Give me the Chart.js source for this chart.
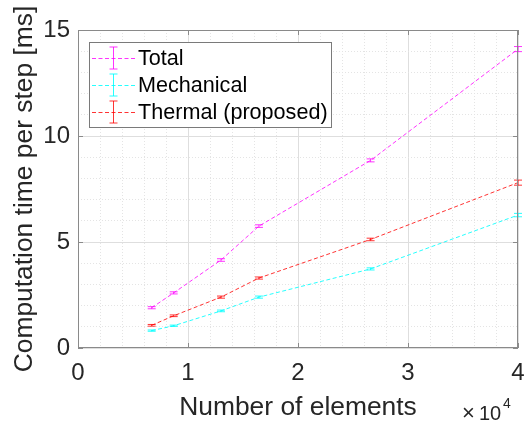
<!DOCTYPE html>
<html>
<head>
<meta charset="utf-8">
<script src="https://cdn.jsdelivr.net/npm/chart.js@4.4.0/dist/chart.umd.min.js"></script>
<style>
  html, body { margin: 0; padding: 0; background: #fff; }
  #wrap { width: 526px; height: 428px; }
</style>
</head>
<body>
<div id="wrap"><canvas id="chart" width="526" height="428"></canvas></div>
<script>
// Number of elements (x axis)
const nElements = [6700, 8700, 13000, 16450, 26600, 40000];

// Computation time per step [ms]
const totalTime = [1.9, 2.6, 4.15, 5.75, 8.85, 14.1];
const mechTime = [0.82, 1.05, 1.75, 2.4, 3.73, 6.27];
const thermTime = [1.07, 1.52, 2.4, 3.3, 5.12, 7.8];

// Error bar half-widths [ms]
const totalErr = [0.05, 0.05, 0.06, 0.06, 0.07, 0.12];
const mechErr = [0.03, 0.03, 0.04, 0.05, 0.05, 0.08];
const thermErr = [0.04, 0.04, 0.05, 0.05, 0.06, 0.12];

const seriesLabels = ['Total', 'Mechanical', 'Thermal (proposed)'];
const seriesColors = ['rgba(255,0,255,0.8)', 'rgba(0,255,255,0.85)', 'rgba(255,0,0,0.8)'];

// Tick labels
const xTickLabels = ['0', '1', '2', '3', '4'];
const yTickLabels = ['0', '5', '10', '15'];

const FONT = "'Liberation Sans', Arial, Helvetica, sans-serif";
const TEXT = '#262626';

function toPoints(xs, ys) {
    return xs.map((x, i) => ({ x: x, y: ys[i] }));
}

function makeDataset(i, values, errors) {
    return {
        label: seriesLabels[i],
        data: toPoints(nElements, values),
        errors: errors,
        borderColor: seriesColors[i],
        borderWidth: 1,
        borderDash: [4, 2.5],
        pointRadius: 0,
        tension: 0,
        fill: false
    };
}

// Error bars drawn with the chart's own scales
const errorBarPlugin = {
    id: 'errorBars',
    afterDatasetsDraw(chart) {
        const ctx = chart.ctx;
        const yScale = chart.scales.y;
        chart.data.datasets.forEach((ds, i) => {
            const meta = chart.getDatasetMeta(i);
            ctx.save();
            ctx.strokeStyle = ds.borderColor;
            ctx.lineWidth = 1;
            meta.data.forEach((pt, j) => {
                const v = ds.data[j].y;
                const e = ds.errors[j];
                const yTop = yScale.getPixelForValue(v + e);
                const yBot = yScale.getPixelForValue(v - e);
                ctx.beginPath();
                ctx.moveTo(pt.x, yTop);
                ctx.lineTo(pt.x, yBot);
                ctx.moveTo(pt.x - 4, yTop);
                ctx.lineTo(pt.x + 4, yTop);
                ctx.moveTo(pt.x - 4, yBot);
                ctx.lineTo(pt.x + 4, yBot);
                ctx.stroke();
            });
            ctx.restore();
        });
    }
};

// Axes box, inward tick marks, legend and the x10^4 multiplier
const framePlugin = {
    id: 'frame',
    afterDraw(chart) {
        const ctx = chart.ctx;
        const a = chart.chartArea;
        const xs = chart.scales.x;
        const ys = chart.scales.y;
        ctx.save();

        // box
        ctx.strokeStyle = '#8a8a8a';
        ctx.lineWidth = 1;
        ctx.strokeRect(Math.round(a.left) + 0.5, Math.round(a.top) + 0.5,
            Math.round(a.right - a.left) - 1, Math.round(a.bottom - a.top) - 1);

        // inward ticks at major values
        ctx.beginPath();
        xTickLabels.forEach((t, i) => {
            const px = Math.round(xs.getPixelForValue(i * 10000)) + 0.5;
            ctx.moveTo(px, a.bottom); ctx.lineTo(px, a.bottom - 5);
            ctx.moveTo(px, a.top); ctx.lineTo(px, a.top + 5);
        });
        yTickLabels.forEach(t => {
            const py = Math.round(ys.getPixelForValue(Number(t))) + 0.5;
            ctx.moveTo(a.left, py); ctx.lineTo(a.left + 5, py);
            ctx.moveTo(a.right, py); ctx.lineTo(a.right - 5, py);
        });
        ctx.stroke();

        // legend
        const lx = 89, ly = 42, lw = 242, lh = 85;
        ctx.fillStyle = '#ffffff';
        ctx.fillRect(lx, ly, lw, lh);
        ctx.strokeStyle = '#7a7a7a';
        ctx.strokeRect(lx + 0.5, ly + 0.5, lw, lh);
        chart.data.datasets.forEach((ds, i) => {
            const cy = 58 + i * 27;
            ctx.strokeStyle = ds.borderColor;
            ctx.lineWidth = 1;
            ctx.setLineDash(ds.borderDash);
            ctx.beginPath();
            ctx.moveTo(92, cy + 0.5);
            ctx.lineTo(135, cy + 0.5);
            ctx.stroke();
            ctx.setLineDash([]);
            ctx.beginPath();
            ctx.moveTo(113.5, cy - 11);
            ctx.lineTo(113.5, cy + 11);
            ctx.moveTo(109.5, cy - 11); ctx.lineTo(117.5, cy - 11);
            ctx.moveTo(109.5, cy + 11); ctx.lineTo(117.5, cy + 11);
            ctx.stroke();
            ctx.fillStyle = '#000000';
            ctx.font = '21.6px ' + FONT;
            ctx.textAlign = 'left';
            ctx.textBaseline = 'middle';
            ctx.fillText(ds.label, 138, cy + 1);
        });

        // x10^4
        ctx.fillStyle = TEXT;
        ctx.textAlign = 'left';
        ctx.textBaseline = 'alphabetic';
        ctx.font = '22px ' + FONT;
        ctx.fillText('\u00d7', 462, 420);
        ctx.font = '20px ' + FONT;
        ctx.fillText('10', 479, 420);
        ctx.font = '14px ' + FONT;
        ctx.fillText('4', 503, 408);

        ctx.restore();
    }
};

const isMajorX = v => v % 10000 === 0;
const isMajorY = v => v % 5 === 0;

const ctx = document.getElementById('chart').getContext('2d');
new Chart(ctx, {
    type: 'line',
    data: {
        datasets: [
            makeDataset(0, totalTime, totalErr),
            makeDataset(1, mechTime, mechErr),
            makeDataset(2, thermTime, thermErr)
        ]
    },
    options: {
        responsive: false,
        animation: false,
        layout: { padding: { left: 0, top: 30, right: 8, bottom: 0 } },
        plugins: {
            legend: { display: false },
            tooltip: { enabled: false }
        },
        scales: {
            x: {
                type: 'linear',
                min: 0,
                max: 40000,
                afterFit: s => {
                    s.height = 80;
                    s.paddingLeft = 0;
                    s.paddingRight = 0;
                },
                ticks: {
                    stepSize: 2000,
                    autoSkip: false,
                    maxRotation: 0,
                    padding: 11,
                    color: TEXT,
                    font: { family: FONT, size: 24 },
                    callback: v => isMajorX(v) ? xTickLabels[v / 10000] : ''
                },
                grid: {
                    drawTicks: false,
                    tickLength: 0,
                    color: c => isMajorX(c.tick.value) ? '#dedede' : '#e4e4e4'
                },
                border: {
                    display: false,
                    dash: c => (c.tick && !isMajorX(c.tick.value)) ? [1, 2] : []
                },
                title: {
                    display: true,
                    text: 'Number of elements',
                    color: TEXT,
                    font: { family: FONT, size: 26.4 },
                    padding: { top: 0, bottom: 4 }
                }
            },
            y: {
                type: 'linear',
                min: 0,
                max: 15,
                afterFit: s => {
                    s.width = 78;
                    s.paddingTop = 0;
                    s.paddingBottom = 0;
                },
                ticks: {
                    stepSize: 1,
                    autoSkip: false,
                    padding: 8,
                    color: TEXT,
                    font: { family: FONT, size: 24 },
                    callback: v => isMajorY(v) ? yTickLabels[v / 5] : ''
                },
                grid: {
                    drawTicks: false,
                    tickLength: 0,
                    color: c => isMajorY(c.tick.value) ? '#dedede' : '#e4e4e4'
                },
                border: {
                    display: false,
                    dash: c => (c.tick && !isMajorY(c.tick.value)) ? [1, 2] : []
                },
                title: {
                    display: true,
                    text: 'Computation time per step [ms]',
                    color: TEXT,
                    font: { family: FONT, size: 26.4 },
                    padding: { top: 9, bottom: 0 }
                }
            }
        }
    },
    plugins: [errorBarPlugin, framePlugin]
});
</script>
</body>
</html>
